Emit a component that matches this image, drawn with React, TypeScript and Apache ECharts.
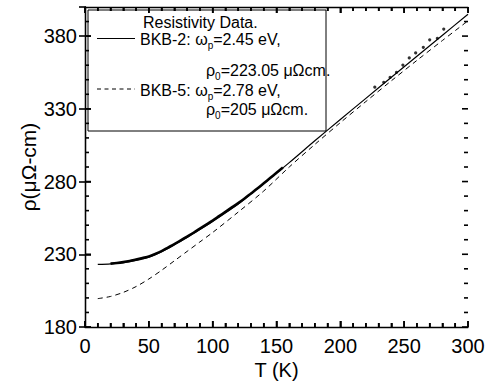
import React, { useEffect, useRef } from 'react';
import * as echarts from 'echarts';

// Fit curves (temperature in K, resistivity in µΩ·cm)
const T_FIT = [10, 20, 30, 40, 50, 60, 70, 80, 90, 100, 120, 140, 160, 180, 200, 220, 240, 260, 280, 300];
const BKB2_FIT = [223.05, 223.4, 224.2, 225.7, 228, 231.8, 236.5, 241.5, 247, 252.5, 264.5, 278.5, 293, 308, 322.7, 337.2, 351.7, 366.2, 380.6, 395];
const BKB5_FIT = [199.5, 201, 203.8, 207.8, 213, 219, 225.5, 232, 238.5, 245, 259, 273.5, 290, 305.5, 320.5, 335, 349.3, 363.3, 377, 390.5];

// BKB-2 measured data (dense low-T part, drawn as a thick trace)
const BKB2_DATA_T = [20, 25, 30, 35, 40, 45, 50, 55, 60, 65, 70, 75, 80, 85, 90, 95, 100, 105, 110, 115, 120, 125, 130, 135, 140, 145, 150, 155];
const BKB2_DATA = [223.6, 224.0, 224.6, 225.4, 226.4, 227.4, 228.4, 230.2, 232.2, 234.6, 237.0, 239.6, 242.2, 244.8, 247.6, 250.4, 253.2, 256.2, 259.2, 262.2, 265.2, 268.4, 271.8, 275.2, 278.8, 282.4, 286.0, 289.6];

// BKB-2 measured data points at high T
const BKB2_HI_T = [227, 234, 239, 244, 249, 254, 259, 265, 270, 276, 281];
const BKB2_HI = [344.9, 348.2, 351.6, 355.0, 360.1, 365.0, 368.4, 372.3, 377.4, 378.5, 384.8];

// Axis ticks
const X_MAJOR = [0, 50, 100, 150, 200, 250, 300];
const X_MINOR = [10, 20, 30, 40, 60, 70, 80, 90, 110, 120, 130, 140, 160, 170, 180, 190, 210, 220, 230, 240, 260, 270, 280, 290];
const Y_MAJOR = [180, 230, 280, 330, 380];
const Y_MINOR = [190, 200, 210, 220, 240, 250, 260, 270, 290, 300, 310, 320, 340, 350, 360, 370, 390];

const X_MIN = 0, X_MAX = 300, Y_MIN = 180, Y_MAX = 400;

const FONT = '"Liberation Sans", Arial, Helvetica, sans-serif';

const pairs = (xs: number[], ys: number[]) => xs.map((x, i) => [x, ys[i]]);

type Part = [string, boolean];

export default function App() {
  const ref = useRef<HTMLDivElement>(null);
  useEffect(() => {
    if (!ref.current) return;
    const chart = echarts.init(ref.current, undefined, { renderer: 'svg' });

    const canvas = document.createElement('canvas');
    const ctx = canvas.getContext('2d')!;
    const measure = (t: string, size: number) => {
      ctx.font = `${size}px "Liberation Sans", Arial, sans-serif`;
      return ctx.measureText(t).width;
    };
    const MAIN = 16, SUB = 10, SUB_DY = 6;
    const textLine = (x0: number, y: number, parts: Part[]) => {
      let x = x0;
      const els: any[] = [];
      parts.forEach(([t, sub]) => {
        const size = sub ? SUB : MAIN;
        els.push({
          type: 'text', x, y: sub ? y + SUB_DY : y, z: 11,
          style: { text: t, fontFamily: FONT, fontSize: size, fill: '#000', align: 'left', verticalAlign: 'middle' },
        });
        x += measure(t, size);
      });
      return els;
    };

    // [x, y, direction, major?]  direction: 0 up from bottom, 1 down from top, 2 right from left, 3 left from right
    const tickData: number[][] = [];
    X_MAJOR.forEach((v) => { tickData.push([v, Y_MIN, 0, 1]); tickData.push([v, Y_MAX, 1, 1]); });
    X_MINOR.forEach((v) => { tickData.push([v, Y_MIN, 0, 0]); tickData.push([v, Y_MAX, 1, 0]); });
    Y_MAJOR.forEach((v) => { tickData.push([X_MIN, v, 2, 1]); tickData.push([X_MAX, v, 3, 1]); });
    Y_MINOR.forEach((v) => { tickData.push([X_MIN, v, 2, 0]); tickData.push([X_MAX, v, 3, 0]); });

    const majorTick = { show: true, inside: true, length: 6, lineStyle: { color: '#000', width: 1.6 } };
    const minorTick = { show: true, splitNumber: 5, length: 4, lineStyle: { color: '#000', width: 1.6 } };

    const option: any = {
      animation: false,
      backgroundColor: '#fff',
      grid: { left: 85, right: 24, top: 7, bottom: 51, containLabel: false },
      xAxis: [
        {
          type: 'value', min: X_MIN, max: X_MAX, interval: 50, position: 'bottom',
          name: 'T (K)', nameLocation: 'middle', nameGap: 33, nameMoveOverlap: false,
          nameTextStyle: { fontFamily: FONT, fontSize: 20, color: '#000' },
          axisLine: { show: true, lineStyle: { color: '#000', width: 1.3 } },
          axisTick: majorTick,
          minorTick: minorTick,
          axisLabel: { show: true, fontFamily: FONT, fontSize: 20, color: '#000', margin: 9 },
          splitLine: { show: false },
        },
        {
          type: 'value', min: X_MIN, max: X_MAX, interval: 50, position: 'top',
          axisLine: { show: true, lineStyle: { color: '#000', width: 1.3 } },
          axisTick: majorTick,
          minorTick: minorTick,
          axisLabel: { show: false }, splitLine: { show: false },
        },
      ],
      yAxis: [
        {
          type: 'value', min: Y_MIN, max: Y_MAX, interval: 50, position: 'left',
          name: 'ρ(μΩ-cm)', nameLocation: 'middle', nameGap: 46, nameRotate: 90, nameMoveOverlap: false,
          nameTextStyle: { fontFamily: FONT, fontSize: 21, color: '#000' },
          axisLine: { show: true, lineStyle: { color: '#000', width: 1.3 } },
          axisTick: majorTick,
          axisLabel: { show: true, showMaxLabel: false, fontFamily: FONT, fontSize: 20, color: '#000', margin: 8 },
          splitLine: { show: false },
        },
        {
          type: 'value', min: Y_MIN, max: Y_MAX, interval: 50, position: 'right',
          axisLine: { show: true, lineStyle: { color: '#000', width: 1.3 } },
          axisTick: majorTick,
          axisLabel: { show: false }, splitLine: { show: false },
        },
      ],
      series: [
        {
          name: 'ticks', type: 'custom', coordinateSystem: 'cartesian2d', data: tickData,
          encode: { x: 0, y: 1 }, clip: false, silent: true, z: 5,
          renderItem: (params: any, api: any) => {
            const dir = api.value(2);
            const len = api.value(3) === 1 ? 6 : 4;
            const p = api.coord([api.value(0), api.value(1)]);
            let x2 = p[0], y2 = p[1];
            if (dir === 0) y2 = p[1] - len;
            else if (dir === 1) y2 = p[1] + len;
            else if (dir === 2) x2 = p[0] + len;
            else x2 = p[0] - len;
            return {
              type: 'line',
              shape: { x1: p[0], y1: p[1], x2, y2 },
              style: { stroke: '#000', lineWidth: 1.6 },
            };
          },
        },
        {
          name: 'BKB-5', type: 'line', data: pairs(T_FIT, BKB5_FIT), smooth: 0.3,
          showSymbol: false, symbol: 'none',
          lineStyle: { color: '#000', width: 1, type: [5, 4] },
        },
        {
          name: 'BKB-2', type: 'line', data: pairs(T_FIT, BKB2_FIT), smooth: 0.3,
          showSymbol: false, symbol: 'none',
          lineStyle: { color: '#000', width: 1.2 },
        },
        {
          name: 'BKB-2 data', type: 'line', data: pairs(BKB2_DATA_T, BKB2_DATA), smooth: 0.3,
          showSymbol: false, symbol: 'none',
          lineStyle: { color: '#000', width: 2.6 },
        },
        {
          name: 'BKB-2 data hi', type: 'scatter', data: pairs(BKB2_HI_T, BKB2_HI),
          symbol: 'circle', symbolSize: 3.2, itemStyle: { color: '#000' },
        },
      ],
      graphic: [
        {
          type: 'rect', shape: { x: 88, y: 10, width: 238, height: 121 },
          style: { fill: 'none', stroke: '#000', lineWidth: 1 }, z: 10,
        },
        ...textLine(143, 22.5, [['Resistivity Data.', false]]),
        {
          type: 'line', shape: { x1: 97, y1: 38.5, x2: 135, y2: 38.5 }, z: 11,
          style: { stroke: '#000', lineWidth: 1 },
        },
        ...textLine(140, 39, [['BKB-2: ω', false], ['p', true], ['=2.45 eV,', false]]),
        ...textLine(206, 70.5, [['ρ', false], ['0', true], ['=223.05 μΩcm.', false]]),
        {
          type: 'line', shape: { x1: 97, y1: 89, x2: 135, y2: 89 }, z: 11,
          style: { stroke: '#000', lineWidth: 1, lineDash: [4, 3.5] },
        },
        ...textLine(140, 90, [['BKB-5: ω', false], ['p', true], ['=2.78 eV,', false]]),
        ...textLine(206, 109.5, [['ρ', false], ['0', true], ['=205 μΩcm.', false]]),
      ],
    };

    chart.setOption(option);
    return () => chart.dispose();
  }, []);

  return (
    <div
      ref={ref}
      style={{ position: 'fixed', left: 0, top: 0, width: 492, height: 385, background: '#fff' }}
    />
  );
}
